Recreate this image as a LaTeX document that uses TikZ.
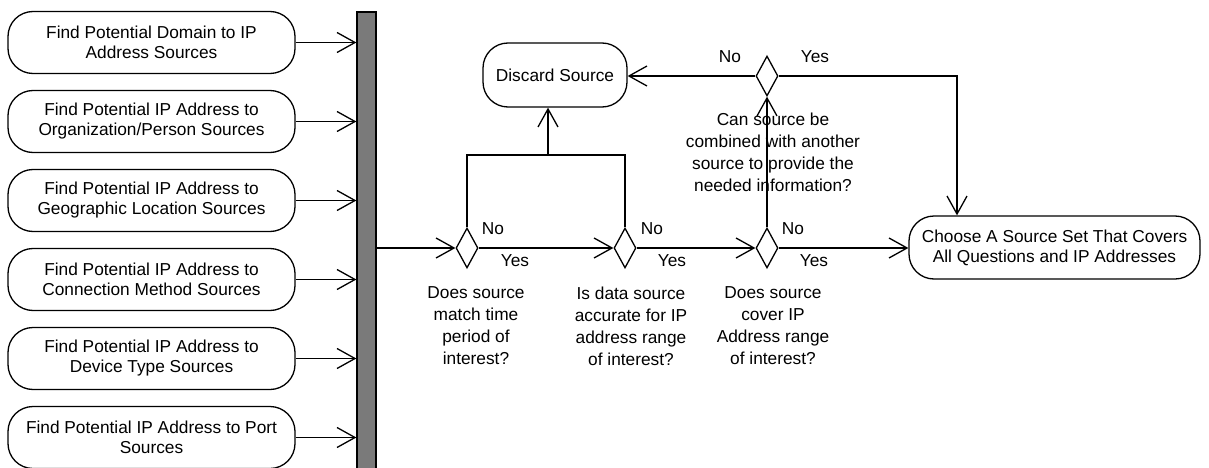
\documentclass[tikz,border=0pt]{standalone}
\usepackage{fontspec}
\setmainfont{Liberation Sans}
\usetikzlibrary{arrows.meta,shapes.geometric}
\tikzset{
  txt/.style={font=\fontsize{17.3}{20}\selectfont},
  qtxt/.style={font=\fontsize{17.3}{22}\selectfont, align=center, inner sep=0pt},
  act/.style={draw, line width=1.3pt, rounded corners=25pt, txt, align=center, inner sep=0pt},
  dec/.style={draw, diamond, line width=1.3pt, minimum width=22pt, minimum height=40pt, inner sep=0pt},
  lab/.style={txt, inner sep=0pt},
  flow/.style={line width=1.3pt},
  arr/.style={flow, -{Straight Barb[length=18pt,width=20pt,line width=1.3pt]}},
}
\begin{document}
\begin{tikzpicture}[x=1pt,y=-1pt]
\useasboundingbox (0,0) rectangle (1209,468);

% source-finding activities
\node[act, minimum width=287pt, minimum height=62pt] (b1) at (151.5,42.5)  {Find Potential Domain to IP\\Address Sources};
\node[act, minimum width=287pt, minimum height=62pt] (b2) at (151.5,121.5) {Find Potential IP Address to\\Organization/Person Sources};
\node[act, minimum width=287pt, minimum height=62pt] (b3) at (151.5,200.5) {Find Potential IP Address to\\Geographic Location Sources};
\node[act, minimum width=287pt, minimum height=62pt] (b4) at (151.5,279.5) {Find Potential IP Address to\\Connection Method Sources};
\node[act, minimum width=287pt, minimum height=62pt] (b5) at (151.5,358.5) {Find Potential IP Address to\\Device Type Sources};
\node[act, minimum width=287pt, minimum height=62pt] (b6) at (151.5,437.5) {Find Potential IP Address to Port\\Sources};

% join bar
\node[draw, line width=1.3pt, fill=black!52, minimum width=19pt, minimum height=480pt, inner sep=0pt] (bar) at (366.5,252) {};

% decisions
\node[dec] (d1) at (467,248) {};
\node[dec] (d2) at (625,248) {};
\node[dec] (d3) at (767,248) {};
\node[dec] (dt) at (767,76) {};

% outcome activities
\node[act, minimum width=144pt, minimum height=64pt] (disc) at (555,75) {Discard Source};
\node[act, minimum width=291pt, minimum height=63pt] (fin) at (1054.5,247.5) {Choose A Source Set That Covers\\All Questions and IP Addresses};

% decision questions
\node[qtxt] (q1) at (476,326) {Does source\\match time\\period of\\interest?};
\node[qtxt] (q2) at (631,326) {Is data source\\accurate for IP\\address range\\of interest?};
\node[qtxt] (q3) at (773,326) {Does source\\cover IP\\Address range\\of interest?};
\node[qtxt] (qt) at (773,152) {Can source be\\combined with another\\source to provide the\\needed information?};

% guard labels
\node[lab] (n1) at (493,229) {No};
\node[lab] (y1) at (515,261) {Yes};
\node[lab] (n2) at (652,229) {No};
\node[lab] (y2) at (672,261) {Yes};
\node[lab] (n3) at (793,229) {No};
\node[lab] (y3) at (814,261) {Yes};
\node[lab] (nt) at (730,57) {No};
\node[lab] (yt) at (815,57) {Yes};

% inputs into the join bar
\foreach \b in {b1,b2,b3,b4,b5,b6}
  \draw[arr] (\b.east) -- (\b.east -| bar.west);

% main flow
\draw[arr] (bar.east |- d1.west) -- (d1.west);
\draw[arr] (d1.east) -- (d2.west);
\draw[arr] (d2.east) -- (d3.west);
\draw[arr] (d3.east) -- (d3.east -| fin.west);

% rejection branches
\coordinate (j) at (548,155);
\draw[flow] (d1.north) |- (j) -| (d2.north);
\draw[arr] (j) -- (j |- disc.south);
\draw[arr] (d3.north) -- (dt.south);
\draw[arr] (dt.west) -- (dt.west -| disc.east);
\coordinate (k) at (957,76);
\draw[arr] (dt.east) -- (k) -- (k |- fin.north);
\end{tikzpicture}
\end{document}
